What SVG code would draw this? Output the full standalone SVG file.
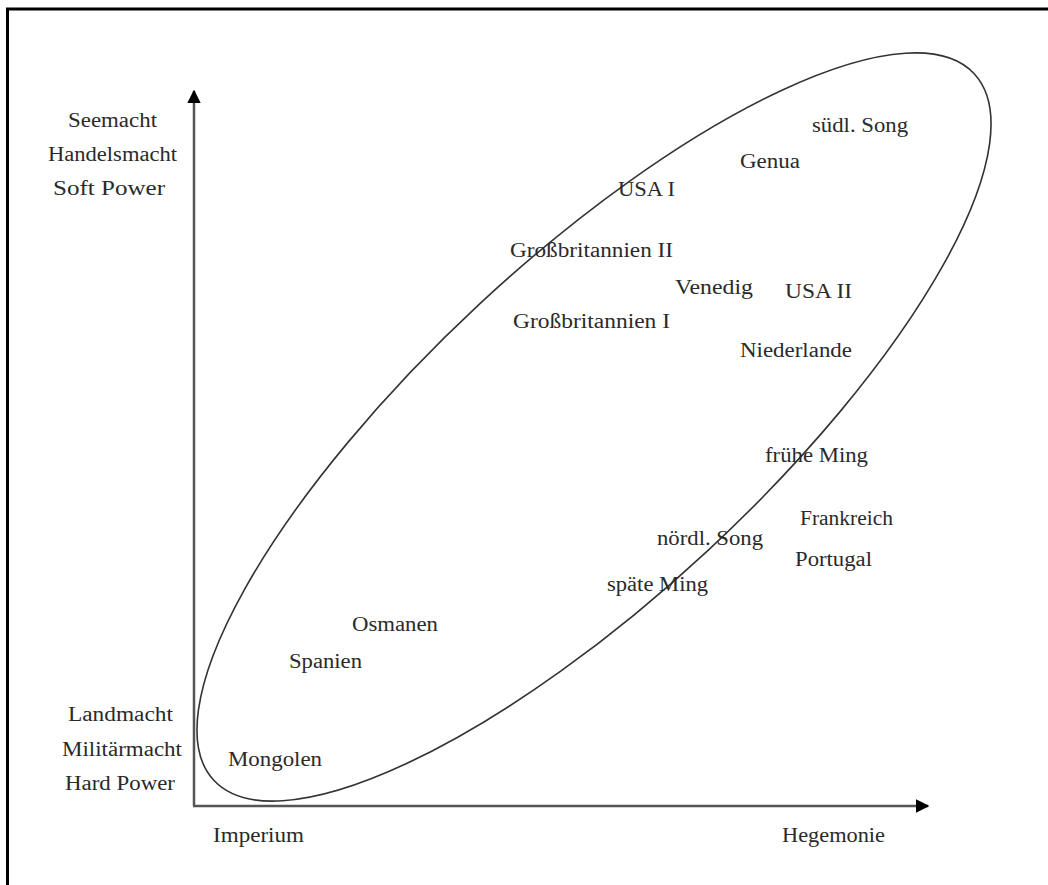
<svg xmlns="http://www.w3.org/2000/svg" width="1048" height="885" viewBox="0 0 1048 885">
<style>
  text { font-family: "Liberation Serif", "Times New Roman", serif; font-size: 20px; fill: #2a2a2a; }
  .axis { stroke: #555; stroke-width: 2.5; fill: none; }
  .frame { stroke: #000; stroke-width: 3; fill: none; }
</style>
<defs>
  <marker id="arr" viewBox="0 0 10 10" refX="9" refY="5" markerWidth="5.5" markerHeight="5.5" markerUnits="strokeWidth" orient="auto">
    <path d="M0,0 L10,5 L0,10 z" fill="#000"/>
  </marker>
</defs>
<rect width="1048" height="885" fill="#fff"/>
<path class="frame" d="M7.5,885 V9 H1048"/>
<g id="connectors">
  <line class="axis" x1="194" y1="806" x2="194" y2="91" marker-end="url(#arr)"/>
  <line class="axis" x1="193" y1="806" x2="928" y2="806" marker-end="url(#arr)"/>
  <ellipse id="ellipse" cx="594" cy="427" rx="519" ry="168" transform="rotate(-42.9 594 427)" fill="none" stroke="#333" stroke-width="1.6"/>
</g>
<g id="axis-labels">
  <g id="seemacht"><text x="68" y="127" textLength="89" lengthAdjust="spacingAndGlyphs">Seemacht</text></g>
  <g id="handelsmacht"><text x="48" y="161" textLength="129" lengthAdjust="spacingAndGlyphs">Handelsmacht</text></g>
  <g id="softpower"><text x="53" y="195" textLength="112" lengthAdjust="spacingAndGlyphs">Soft Power</text></g>
  <g id="landmacht"><text x="68" y="721" textLength="105" lengthAdjust="spacingAndGlyphs">Landmacht</text></g>
  <g id="militaermacht"><text x="62" y="756" textLength="120" lengthAdjust="spacingAndGlyphs">Militärmacht</text></g>
  <g id="hardpower"><text x="65" y="790" textLength="110" lengthAdjust="spacingAndGlyphs">Hard Power</text></g>
  <g id="imperium"><text x="213" y="842" textLength="91" lengthAdjust="spacingAndGlyphs">Imperium</text></g>
  <g id="hegemonie"><text x="782" y="842" textLength="103" lengthAdjust="spacingAndGlyphs">Hegemonie</text></g>
</g>
<g id="powers">
  <g id="mongolen"><text x="228" y="766" textLength="94" lengthAdjust="spacingAndGlyphs">Mongolen</text></g>
  <g id="spanien"><text x="289" y="668" textLength="73" lengthAdjust="spacingAndGlyphs">Spanien</text></g>
  <g id="osmanen"><text x="352" y="631" textLength="86" lengthAdjust="spacingAndGlyphs">Osmanen</text></g>
  <g id="spaete-ming"><text x="607" y="591" textLength="101" lengthAdjust="spacingAndGlyphs">späte Ming</text></g>
  <g id="noerdl-song"><text x="657" y="545" textLength="106" lengthAdjust="spacingAndGlyphs">nördl. Song</text></g>
  <g id="portugal"><text x="795" y="566" textLength="77" lengthAdjust="spacingAndGlyphs">Portugal</text></g>
  <g id="frankreich"><text x="800" y="525" textLength="93" lengthAdjust="spacingAndGlyphs">Frankreich</text></g>
  <g id="fruehe-ming"><text x="765" y="462" textLength="103" lengthAdjust="spacingAndGlyphs">frühe Ming</text></g>
  <g id="niederlande"><text x="740" y="357" textLength="112" lengthAdjust="spacingAndGlyphs">Niederlande</text></g>
  <g id="grossbritannien-1"><text x="513" y="328" textLength="157" lengthAdjust="spacingAndGlyphs">Großbritannien I</text></g>
  <g id="usa-2"><text x="785" y="298" textLength="67" lengthAdjust="spacingAndGlyphs">USA II</text></g>
  <g id="venedig"><text x="675" y="294" textLength="78" lengthAdjust="spacingAndGlyphs">Venedig</text></g>
  <g id="grossbritannien-2"><text x="510" y="257" textLength="163" lengthAdjust="spacingAndGlyphs">Großbritannien II</text></g>
  <g id="usa-1"><text x="618" y="196" textLength="57" lengthAdjust="spacingAndGlyphs">USA I</text></g>
  <g id="genua"><text x="740" y="168" textLength="60" lengthAdjust="spacingAndGlyphs">Genua</text></g>
  <g id="suedl-song"><text x="812" y="132" textLength="96" lengthAdjust="spacingAndGlyphs">südl. Song</text></g>
</g>
</svg>
